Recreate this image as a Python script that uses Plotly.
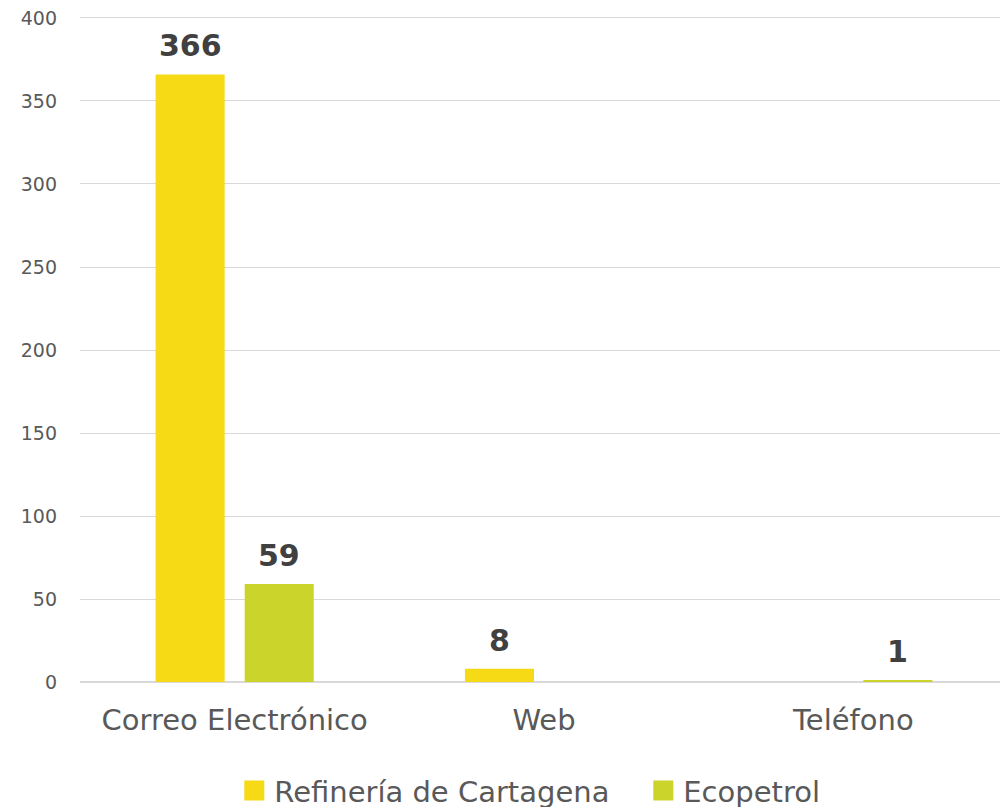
import plotly.graph_objects as go

categories = ["Correo Electrónico", "Web", "Teléfono"]
refineria = [366, 8, 0]
ecopetrol = [59, 0, 1]
series_names = ["Refinería de Cartagena", "Ecopetrol"]
y_ticks = [0, 50, 100, 150, 200, 250, 300, 350, 400]

colors = ["#F6DA15", "#CBD42B"]
FONT = "DejaVu Sans"

fig = go.Figure()
series = [refineria, ecopetrol]
for name, vals, col in zip(series_names, series, colors):
    fig.add_trace(go.Bar(
        x=categories, y=vals, name=name, showlegend=False,
        marker=dict(color=col, line=dict(width=0)),
    ))
    # legend entry with square marker
    fig.add_trace(go.Scatter(
        x=[None], y=[None], mode="markers", name=name,
        marker=dict(symbol="square", size=16, color=col, line=dict(width=4, color=col)),
    ))

# value labels above bars
slot_px = 44.5
for i, vals in enumerate(series):
    shift = -slot_px if i == 0 else slot_px
    for cat, v in zip(categories, vals):
        if v:
            fig.add_annotation(
                x=cat, y=v, xref="x", yref="y", text=f"<b>{v}</b>",
                showarrow=False, xshift=shift, yshift=9, yanchor="bottom",
                font=dict(family=FONT, size=30, color="#404040"),
            )

fig.update_layout(
    width=1000, height=799,
    margin=dict(l=72, r=0, t=8, b=125, autoexpand=False),
    paper_bgcolor="white", plot_bgcolor="white",
    barmode="group", bargap=0.424, bargroupgap=0.225,
    font=dict(family=FONT, color="#595959"),
    showlegend=True,
    legend=dict(orientation="h", x=0.607, xanchor="center", y=-0.163, yanchor="middle",
                font=dict(size=29, color="#595959"), entrywidth=364, traceorder="normal",
                itemclick=False),
)
fig.update_yaxes(range=[0, 401.2], tickvals=y_ticks, showgrid=True, gridcolor="#D9D9D9",
                 gridwidth=1.3, zeroline=True, zerolinecolor="#D9D9D9", zerolinewidth=1.5,
                 tickfont=dict(size=19, color="#595959"), ticklabelstandoff=22,
                 ticklabeloverflow="allow",
                 showline=False, fixedrange=True, automargin=False)
fig.update_xaxes(tickfont=dict(size=29, color="#595959"), ticklabelstandoff=18,
                 showline=False, showgrid=False, fixedrange=True, automargin=False)

fig.write_html("out.html")
